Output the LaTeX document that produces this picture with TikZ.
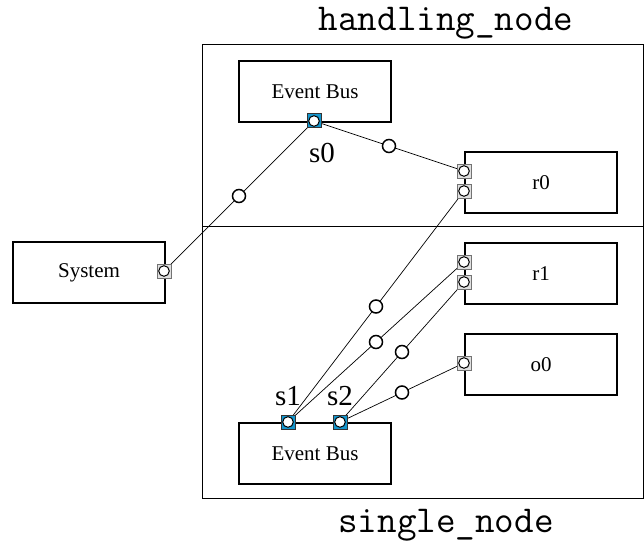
\documentclass[tikz,border=0pt]{standalone}
\usepackage{fontspec}
\setmainfont{Liberation Serif}
\definecolor{portblue}{RGB}{20,150,205}
\begin{document}
\begin{tikzpicture}[x=1pt,y=-1pt,
  comp/.style={draw, line width=2pt, minimum width=152pt, minimum height=61pt,
    inner sep=0pt, anchor=north west, font=\fontsize{21}{24}\selectfont},
  region/.style={draw, line width=1pt},
  portbase/.style={minimum size=14pt, inner sep=0pt, line width=1pt,
    path picture={\filldraw[fill=white, draw=black, line width=1pt]
      (path picture bounding box.center) circle (5.3pt);}},
  gport/.style={portbase, draw=black!55, fill=black!12},
  bport/.style={portbase, draw=black!80, fill=portblue},
  lolli/.style={circle, draw, fill=white, line width=1.5pt, minimum size=13pt, inner sep=0pt},
  wire/.style={line width=0.7pt},
  plabel/.style={font=\fontsize{29}{32}\selectfont},
  title/.style={font=\ttfamily\fontsize{38}{40}\selectfont, anchor=base, inner sep=0pt}
]
\useasboundingbox (0,0) rectangle (644,540);

% deployment regions
\draw[region] (202,45) rectangle (643,226);
\draw[region] (202,226) rectangle (643,498);
\node[title] (tHandling) at (446,31) {handling\_node};
\node[title] (tSingle) at (446,532) {single\_node};

% components
\node[comp] (eb1) at (238,60) {Event Bus};
\node[comp] (r0) at (464,151) {r0};
\node[comp] (r1) at (464,242) {r1};
\node[comp] (o0) at (464,333) {o0};
\node[comp] (sys) at (12,241) {System};
\node[comp] (eb2) at (238,422) {Event Bus};

% port positions
\coordinate (cs0) at (314,121);
\coordinate (cs1) at (288,422);
\coordinate (cs2) at (340,422);
\coordinate (cr0a) at (464,171);
\coordinate (cr0b) at (464,191);
\coordinate (cr1a) at (464,262);
\coordinate (cr1b) at (464,282);
\coordinate (co0a) at (464,363);
\coordinate (csys) at (164,271);

% connectors with lollipop markers
\draw[wire] (csys) -- node[lolli] {} (cs0);
\draw[wire] (cs0) -- node[lolli] {} (cr0a);
\draw[wire] (cs1) -- node[lolli] {} (cr0b);
\draw[wire] (cs1) -- node[lolli] {} (cr1a);
\draw[wire] (cs2) -- node[lolli] {} (cr1b);
\draw[wire] (cs2) -- node[lolli] {} (co0a);

% ports
\node[bport] (s0) at (cs0) {};
\node[bport] (s1) at (cs1) {};
\node[bport] (s2) at (cs2) {};
\node[gport] (r0a) at (cr0a) {};
\node[gport] (r0b) at (cr0b) {};
\node[gport] (r1a) at (cr1a) {};
\node[gport] (r1b) at (cr1b) {};
\node[gport] (o0a) at (co0a) {};
\node[gport] (sysp) at (csys) {};

% port labels
\node[plabel] (ls0) at (322,153) {s0};
\node[plabel] (ls1) at (288,396) {s1};
\node[plabel] (ls2) at (340,396) {s2};
\end{tikzpicture}
\end{document}
